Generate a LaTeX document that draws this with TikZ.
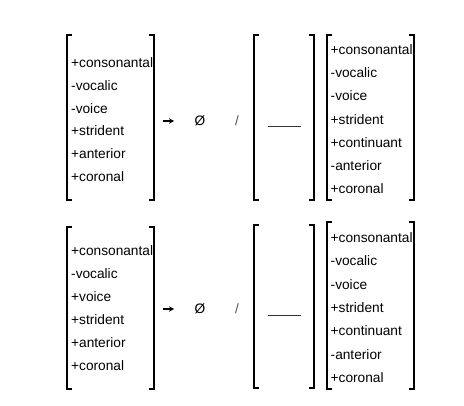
\documentclass[tikz,border=0pt]{standalone}
\usepackage{fontspec}
\setmainfont{Liberation Sans}
\usetikzlibrary{arrows.meta}
\begin{document}
\begin{tikzpicture}[x=1pt,y=-1pt,
  box/.style={draw=none, inner sep=0pt, outer sep=0pt},
  brk/.style={line width=1.8pt, line join=miter},
  feat/.style={anchor=base west, inner sep=0pt, font=\fontsize{13.7}{16}\selectfont},
  sym/.style={inner sep=0pt, font=\fontsize{13.7}{16}\selectfont},
  slash/.style={inner sep=0pt, font=\fontsize{13.5}{16}\selectfont, text=black!70},
  rarrow/.style={line width=1.4pt, -{Stealth[length=5pt,width=5.5pt]}},
  blank/.style={line width=0.6pt, draw=black!80}]
\useasboundingbox (0,0) rectangle (464,405);
% boxes
\node[box, minimum width=87pt, minimum height=165pt] (L1) at (110.5,117.5) {};
\node[box, minimum width=60pt, minimum height=165pt] (M1) at (284,117.5) {};
\node[box, minimum width=87pt, minimum height=165pt] (R1) at (370.5,117.5) {};
\node[box, minimum width=87pt, minimum height=162pt] (L2) at (110.5,308) {};
\node[box, minimum width=60pt, minimum height=163pt] (M2) at (284,306.5) {};
\node[box, minimum width=87pt, minimum height=167pt] (R2) at (370.5,305.5) {};
\foreach \b in {L1,M1,R1,L2,M2,R2}{
  \draw[brk] ([xshift=5pt]\b.north west) -- (\b.north west) -- (\b.south west) -- ([xshift=5pt]\b.south west);
  \draw[brk] ([xshift=-5pt]\b.north east) -- (\b.north east) -- (\b.south east) -- ([xshift=-5pt]\b.south east);
}
% features
\foreach \t [count=\i] in {+consonantal,-vocalic,-voice,+strident,+anterior,+coronal}
  \node[feat] (L1f\i) at (71, {67.5+(\i-1)*22.8}) {\t};
\foreach \t [count=\i] in {+consonantal,-vocalic,-voice,+strident,+continuant,-anterior,+coronal}
  \node[feat] (R1f\i) at (330.5, {54.5+(\i-1)*23.17}) {\t};
\foreach \t [count=\i] in {+consonantal,-vocalic,+voice,+strident,+anterior,+coronal}
  \node[feat] (L2f\i) at (71, {255.5+(\i-1)*23}) {\t};
\foreach \t [count=\i] in {+consonantal,-vocalic,-voice,+strident,+continuant,-anterior,+coronal}
  \node[feat] (R2f\i) at (330.5, {242.5+(\i-1)*23.33}) {\t};
% rule symbols
\coordinate (a1a) at (163,121);
\coordinate (a1b) at (174,121);
\draw[rarrow] (a1a) -- (a1b);
\node[sym] (z1) at (200,121) {Ø};
\node[slash] (s1) at (237,121) {/};
\coordinate (u1a) at (268,126);
\coordinate (u1b) at (301,126);
\draw[blank] (u1a) -- (u1b);
\coordinate (a2a) at (163,309);
\coordinate (a2b) at (174,309);
\draw[rarrow] (a2a) -- (a2b);
\node[sym] (z2) at (200,309) {Ø};
\node[slash] (s2) at (237,309) {/};
\coordinate (u2a) at (268,315);
\coordinate (u2b) at (301,315);
\draw[blank] (u2a) -- (u2b);
\end{tikzpicture}
\end{document}
